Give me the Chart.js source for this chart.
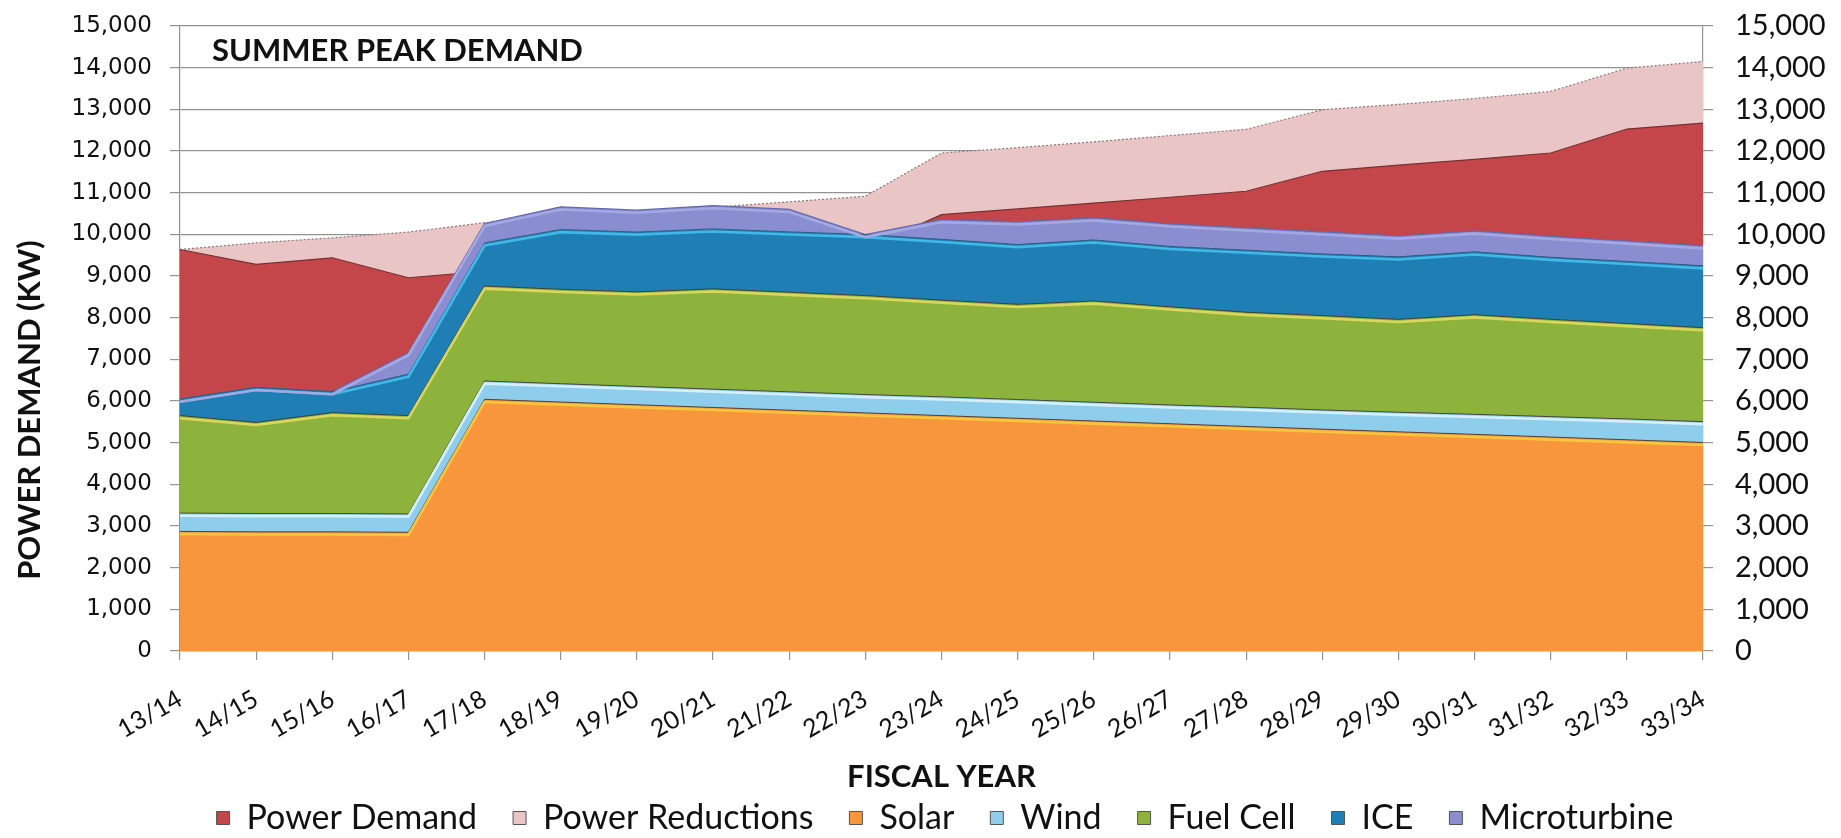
<!DOCTYPE html>
<html>
<head>
<meta charset="utf-8">
<script src="https://cdn.jsdelivr.net/npm/chart.js@4.4.0/dist/chart.umd.min.js"></script>
<style>
  html, body { margin: 0; padding: 0; background: #ffffff; }
  #wrap { width: 1841px; height: 838px; position: relative; }
</style>
</head>
<body>
<div id="wrap"><canvas id="c" width="1841" height="838"></canvas></div>
<script>
// ---- data (kW) ----
const fiscalYears = ['13/14','14/15','15/16','16/17','17/18','18/19','19/20','20/21','21/22','22/23','23/24',
                     '24/25','25/26','26/27','27/28','28/29','29/30','30/31','31/32','32/33','33/34'];
// overlapping (non-stacked) demand areas
const powerDemand     = [9636, 9277, 9437, 8958, 9110, 9220, 9330, 9440, 9550, 9650, 10474,
                         10610, 10750, 10890, 11034, 11513, 11660, 11800, 11952, 12527, 12671];
const powerReductions = [9636, 9796, 9916, 10055, 10280, 10420, 10540, 10650, 10780, 10914, 11952,
                         12080, 12220, 12370, 12520, 12990, 13120, 13260, 13430, 13988, 14149];
// stacked supply layers
const solar       = [2870, 2860, 2860, 2850, 6040, 5975, 5910, 5845, 5780, 5715, 5650,
                     5585, 5520, 5455, 5390, 5325, 5260, 5200, 5135, 5070, 5005];
const wind        = [440, 440, 440, 440, 440, 440, 440, 440, 440, 440, 450,
                     450, 450, 450, 460, 460, 470, 480, 490, 500, 500];
const fuelCell    = [2340, 2185, 2420, 2360, 2280, 2265, 2270, 2405, 2390, 2375, 2320,
                     2285, 2430, 2355, 2280, 2265, 2230, 2390, 2335, 2290, 2255];
const ice         = [395, 840, 505, 995, 1035, 1435, 1435, 1440, 1450, 1465, 1460,
                     1435, 1465, 1450, 1490, 1480, 1500, 1510, 1490, 1490, 1485];
const microturbine= [0, 0, 0, 515, 465, 545, 525, 560, 540, 0, 475,
                     545, 530, 540, 535, 530, 500, 500, 500, 490, 480];
const yTicksMax = 15000, yTickStep = 1000;

const chartTitle = 'SUMMER PEAK DEMAND';
const xTitle = 'FISCAL YEAR';
const yTitle = 'POWER DEMAND (KW)';

const titlesPlugin = {
  id: 'titles',
  afterDraw(chart) {
    const {ctx, chartArea} = chart;
    ctx.save();
    ctx.fillStyle = '#111111';
    ctx.font = 'bold 31px Lato';
    ctx.textBaseline = 'middle';
    ctx.textAlign = 'left';
    ctx.fillText(chartTitle, chartArea.left + 32, chartArea.top + 25);
    ctx.textAlign = 'center';
    ctx.fillText(xTitle, (chartArea.left + chartArea.right) / 2, chartArea.bottom + 126);
    ctx.translate(30, chartArea.top + 384);
    ctx.rotate(-Math.PI / 2);
    ctx.fillText(yTitle, 0, 0);
    ctx.restore();
  }
};

// bevel-like highlight just under the top edge of each supply layer
const highlightPlugin = {
  id: 'highlight',
  afterDatasetsDraw(chart) {
    const {ctx, chartArea} = chart;
    ctx.save();
    ctx.beginPath();
    ctx.rect(chartArea.left, chartArea.top, chartArea.right - chartArea.left, chartArea.bottom - chartArea.top);
    ctx.clip();
    chart.data.datasets.forEach((ds, i) => {
      if (!ds.highlight) return;
      const pts = chart.getDatasetMeta(i).data;
      ctx.beginPath();
      pts.forEach((p, k) => {
        if (k === 0) ctx.moveTo(p.x, p.y + 2.6); else ctx.lineTo(p.x, p.y + 2.6);
      });
      ctx.strokeStyle = ds.highlight;
      ctx.lineWidth = 2.6;
      ctx.lineJoin = 'round';
      ctx.stroke();
    });
    ctx.restore();
  }
};

const gridColor = '#939393';
const edgeDark = 'rgba(40,40,40,0.75)';

function area(label, data, opts) {
  return Object.assign({
    label, data,
    pointRadius: 0, pointHoverRadius: 0, tension: 0,
    borderWidth: 1
  }, opts);
}

function fixVerticalAxis(width) {
  return (s) => { s.width = width; s.paddingTop = 0; s.paddingBottom = 0; };
}

new Chart(document.getElementById('c'), {
  type: 'line',
  data: {
    labels: fiscalYears,
    datasets: [
      area('Power Demand', powerDemand, {stack: 'demand', order: 2, fill: 'origin',
        backgroundColor: '#C4464A', borderColor: '#7a3030', borderWidth: 1.2}),
      area('Power Reductions', powerReductions, {stack: 'reductions', order: 3, fill: 'origin',
        backgroundColor: '#E9C5C5', borderColor: '#8f7777', borderWidth: 1.2, borderDash: [2, 2]}),
      area('Solar', solar, {stack: 'supply', order: 1, fill: 'origin',
        backgroundColor: '#F7963D', borderColor: edgeDark, borderWidth: 1, highlight: '#F7C63E'}),
      area('Wind', wind, {stack: 'supply', order: 1, fill: '-1',
        backgroundColor: '#8ECDEB', borderColor: edgeDark, borderWidth: 1, highlight: '#D3F0FB'}),
      area('Fuel Cell', fuelCell, {stack: 'supply', order: 1, fill: '-1',
        backgroundColor: '#8EB33D', borderColor: edgeDark, borderWidth: 1, highlight: '#D8D65E'}),
      area('ICE', ice, {stack: 'supply', order: 1, fill: '-1',
        backgroundColor: '#1F7FB4', borderColor: '#2a5f86', borderWidth: 1, highlight: '#41B8E6'}),
      area('Microturbine', microturbine, {stack: 'supply', order: 1, fill: '-1',
        backgroundColor: '#8A8ED0', borderColor: '#6468ad', borderWidth: 1.2, highlight: '#A4A8E2'})
    ]
  },
  options: {
    responsive: false,
    animation: false,
    events: [],
    layout: { padding: { left: 49, right: 0, top: 26, bottom: -7 } },
    plugins: {
      tooltip: { enabled: false },
      title: { display: false },
      legend: {
        display: true,
        position: 'bottom',
        labels: {
          font: { family: 'Lato', size: 34 },
          color: '#111111',
          boxWidth: 13,
          boxHeight: 13,
          padding: 36,
          sort: (a, b) => a.datasetIndex - b.datasetIndex,
          generateLabels: (chart) => Chart.defaults.plugins.legend.labels.generateLabels(chart)
            .map(l => Object.assign(l, { lineWidth: 1, lineDash: [], strokeStyle: '#555555' }))
        }
      }
    },
    scales: {
      x: {
        type: 'category',
        offset: false,
        grid: { display: true, drawOnChartArea: false, drawTicks: true, tickLength: 9, color: gridColor, lineWidth: 1.2 },
        border: { display: true, color: gridColor, width: 1.2 },
        ticks: {
          autoSkip: false, maxRotation: 30, minRotation: 30,
          font: { family: 'Lato', size: 25 }, color: '#111111', padding: 24
        },
        afterFit: (s) => { s.height = 114; }
      },
      y: {
        position: 'left',
        stacked: true,
        min: 0, max: yTicksMax,
        grid: { color: gridColor, lineWidth: 1.2, tickLength: 10, drawTicks: true },
        border: { display: true, color: gridColor, width: 1.2 },
        ticks: {
          stepSize: yTickStep,
          font: { family: 'DejaVu Sans', size: 23 }, color: '#111111', padding: 18,
          callback: (v) => v.toLocaleString('en-US')
        },
        afterFit: fixVerticalAxis(131)
      },
      y2: {
        position: 'right',
        min: 0, max: yTicksMax,
        grid: { drawOnChartArea: false, color: gridColor, lineWidth: 1.2, tickLength: 10, drawTicks: true },
        border: { display: true, color: gridColor, width: 1.2 },
        ticks: {
          stepSize: yTickStep,
          font: { family: 'Lato', size: 29 }, color: '#111111', padding: 22,
          callback: (v) => v.toLocaleString('en-US')
        },
        afterFit: fixVerticalAxis(138)
      }
    }
  },
  plugins: [titlesPlugin, highlightPlugin]
});
</script>
</body>
</html>
